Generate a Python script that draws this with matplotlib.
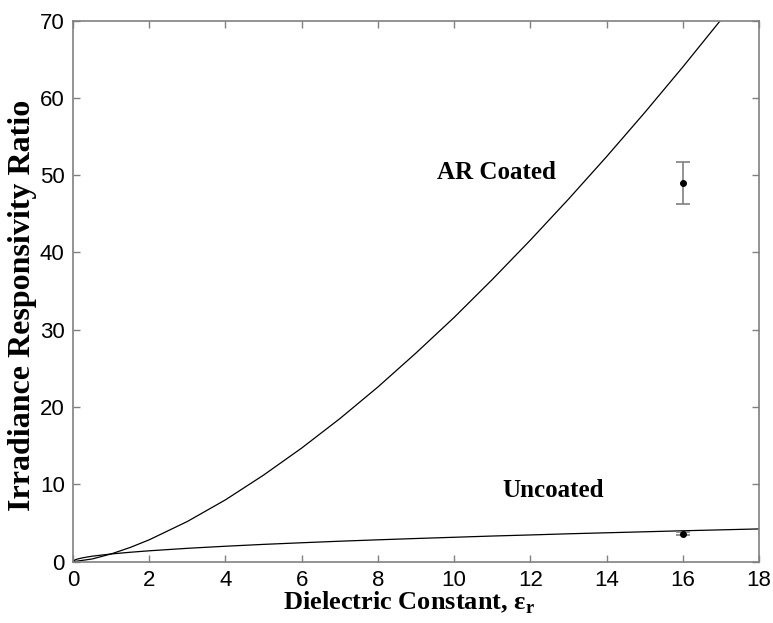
import matplotlib
matplotlib.use('Agg')
import matplotlib.pyplot as plt

# values
ar_eps = [0, 0.5, 1, 1.5, 2, 3, 4, 5, 6, 7, 8, 9, 10, 11, 12, 13, 14, 15, 16, 17]
ar_ratio = [0, 0.35, 1.0, 1.84, 2.83, 5.2, 8.0, 11.2, 14.7, 18.5, 22.6, 27.0,
            31.6, 36.5, 41.6, 46.9, 52.4, 58.1, 64.0, 70.1]

unc_eps = [0, 0.05, 0.1, 0.25, 0.5, 1, 1.5, 2, 3, 4, 5, 6, 7, 8, 9, 10, 11,
           12, 13, 14, 15, 16, 17, 18]
unc_ratio = [0, 0.22, 0.32, 0.5, 0.71, 1.0, 1.22, 1.41, 1.73, 2.0, 2.24, 2.45,
             2.65, 2.83, 3.0, 3.16, 3.32, 3.46, 3.61, 3.74, 3.87, 4.0, 4.12, 4.24]

meas_eps = [16, 16]
meas_ratio = [49.0, 3.62]
meas_err = [2.7, 0.2]

serif = ['Liberation Serif', 'DejaVu Serif']
sans = ['Liberation Sans', 'DejaVu Sans']
gray = '#808080'

plt.rcParams['mathtext.fontset'] = 'custom'
plt.rcParams['mathtext.bf'] = 'Liberation Serif:bold'
plt.rcParams['mathtext.rm'] = 'Liberation Serif'

fig = plt.figure(figsize=(7.73, 6.23), dpi=100)
ax = fig.add_axes([0.0944, 0.0984, 0.8876, 0.8686])

ax.plot(ar_eps, ar_ratio, color='black', lw=0.9)
ax.plot(unc_eps, unc_ratio, color='black', lw=0.9)
ax.errorbar(meas_eps, meas_ratio, yerr=meas_err, fmt='o', color='black',
            ms=4, ecolor=gray, elinewidth=1.2, capsize=5, capthick=1.2)

ax.text(11.1, 50.4, 'AR Coated', ha='center', va='center', fontsize=18,
        fontweight='bold', family=serif)
ax.text(12.6, 9.15, 'Uncoated', ha='center', va='center', fontsize=18,
        fontweight='bold', family=serif)

ax.set_xlim(0, 18)
ax.set_ylim(0, 70)
ax.set_xticks(range(0, 19, 2))
ax.set_yticks(range(0, 71, 10))
ax.tick_params(direction='in', length=5, width=1, colors=gray,
               labelcolor='black', labelsize=16, top=True, right=True, pad=6)
for lab in ax.get_xticklabels() + ax.get_yticklabels():
    lab.set_family(sans)
for sp in ax.spines.values():
    sp.set_color(gray)
    sp.set_linewidth(1.2)

ax.set_xlabel('Dielectric Constant, \u03b5$_\\mathbf{r}$', fontsize=19,
              fontweight='bold', family=serif)
ax.set_ylabel('Irradiance Responsivity Ratio', fontsize=23,
              fontweight='bold', family=serif)
ax.xaxis.set_label_coords(0.49, -0.052)
ax.yaxis.set_label_coords(-0.052, 0.474)

fig.savefig('out.png', dpi=100)
